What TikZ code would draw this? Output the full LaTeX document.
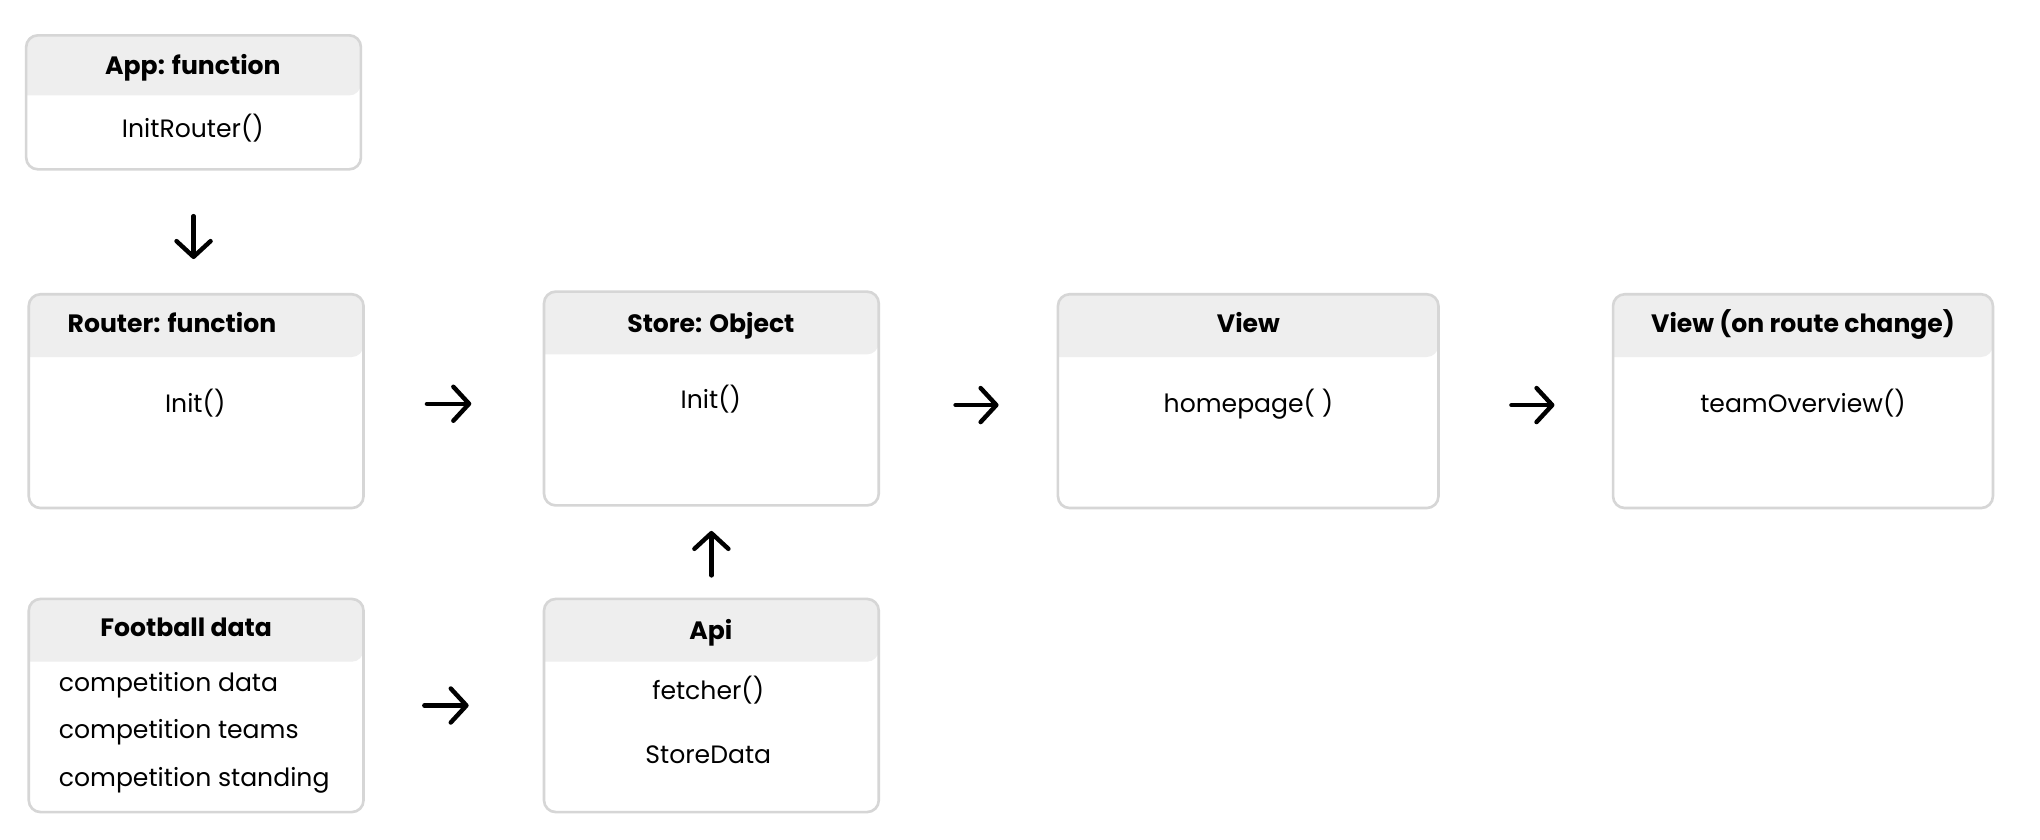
\documentclass[tikz,border=0pt]{standalone}
\usepackage{fontspec}
\setmainfont{Poppins}
\usetikzlibrary{arrows.meta,calc}
\definecolor{boxline}{HTML}{D6D6D6}
\definecolor{hdrfill}{HTML}{EEEEEE}
\tikzset{
  umlbox/.style={draw=boxline, line width=2pt, rounded corners=9pt, inner sep=0pt},
  hdr/.style={fill=hdrfill},
  ttl/.style={font=\fontsize{19.2}{23}\selectfont\bfseries, inner sep=0pt, anchor=center},
  itm/.style={font=\fontsize{19.2}{23}\selectfont, inner sep=0pt, anchor=center},
  arr/.style={draw=black, line width=3.4pt, line cap=round, -{Straight Barb[length=12pt,width=26pt,line width=3.4pt,round]}},
}
\newcommand{\umlbox}[6]{% name, x1, y1, x2, y2, header bottom
  \fill[hdr, rounded corners=9pt] (#2,#6) -- (#2,#3) -- (#4,#3) -- (#4,#6) [sharp corners] -- cycle;
  \node[umlbox, minimum width={(#4-#2)*1pt}, minimum height={(#5-#3)*1pt}] (#1) at ({(#2+#4)/2},{(#3+#5)/2}) {};
}
\begin{document}
\begin{tikzpicture}[x=1pt,y=-1pt]
\useasboundingbox (0,0) rectangle (1560,642.35);
\fill[white] (0,0) rectangle (1560,642.35);
% boxes
\umlbox{app}{20}{27}{276}{129.5}{73}
\umlbox{router}{22}{225}{278}{388.5}{273}
\umlbox{store}{416}{223}{672}{386.5}{271}
\umlbox{view}{809}{225}{1100}{388.5}{273}
\umlbox{viewrc}{1233.5}{225}{1524}{388.5}{273}
\umlbox{football}{22}{458}{278}{621}{506}
\umlbox{api}{416}{458}{672}{621}{506}
% texts
\node[ttl] (appT) at (147.5,52) {App: function};
\node[itm] (appI) at (147.5,98) {InitRouter()};
\node[ttl] (routerT) at (131.5,247) {Router: function};
\node[itm] (routerI) at (149.3,308) {Init()};
\node[ttl] (storeT) at (543.6,249) {Store: Object};
\node[itm] (storeI) at (543.6,305) {Init()};
\node[ttl] (viewT) at (954.7,247) {View};
\node[itm] (viewI) at (954.7,309) {homepage( )};
\node[ttl] (viewrcT) at (1378.8,248) {View (on route change)};
\node[itm] (viewrcI) at (1378.8,308) {teamOverview()};
\node[ttl] (footballT) at (142.4,480) {Football data};
\node[itm, anchor=west] (fb1) at (44.8,524) {competition data};
\node[itm, anchor=west] (fb2) at (44.8,560) {competition teams};
\node[itm, anchor=west] (fb3) at (44.8,597) {competition standing};
\node[ttl] (apiT) at (543.6,484) {Api};
\node[itm] (api1) at (541.6,528) {fetcher()};
\node[itm] (api2) at (541.6,577) {StoreData};
% arrows
\draw[arr, shorten <=34.8pt, shorten >=25.9pt] (app.south) -- (app.south |- router.north);
\draw[arr, shorten <=47.5pt, shorten >=54.6pt] ($(router.east)+(0,2)$) -- ($(router.east -| store.west)+(0,2)$);
\draw[arr, shorten <=57.7pt, shorten >=44.4pt] ($(store.east)+(0,5)$) -- ($(store.east -| view.west)+(0,5)$);
\draw[arr, shorten <=54.8pt, shorten >=43.8pt] ($(view.east)+(0,3)$) -- ($(view.east -| viewrc.west)+(0,3)$);
\draw[arr, shorten <=45.5pt, shorten >=56.6pt] (football.east) -- (football.east -| api.west);
\draw[arr, shorten <=17pt, shorten >=18.5pt] (api.north) -- (api.north |- store.south);
\end{tikzpicture}
\end{document}
